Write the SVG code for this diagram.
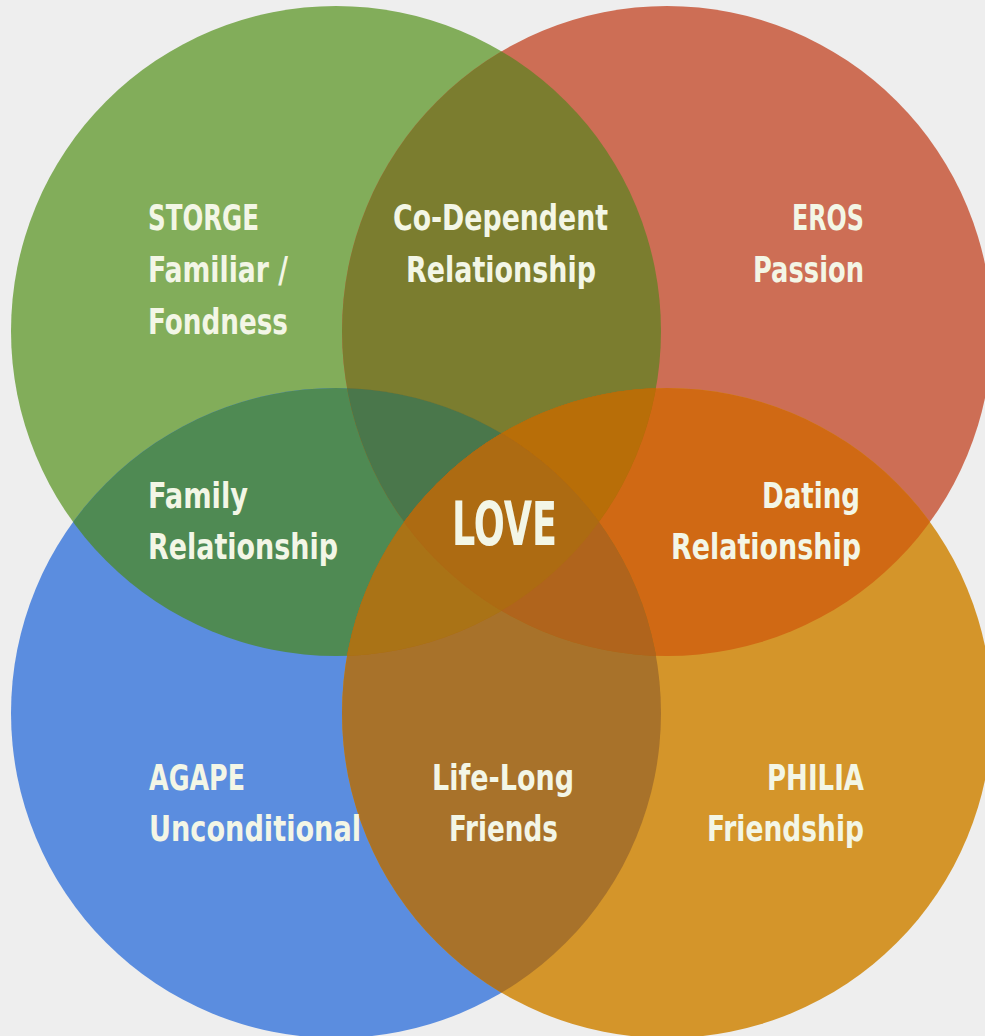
<svg xmlns="http://www.w3.org/2000/svg" width="985" height="1036" viewBox="0 0 985 1036">
<style>
.t{font-family:"Liberation Sans Narrow","DejaVu Sans Condensed","Liberation Sans",sans-serif;font-weight:bold;font-size:36px;fill:#f3f6e6}
.big{font-size:60px}
</style>
<defs>
<clipPath id="cG"><circle cx="336" cy="331" r="325"/></clipPath>
<clipPath id="cR"><circle cx="667" cy="331" r="325"/></clipPath>
<clipPath id="cB"><circle cx="336" cy="713" r="325"/></clipPath>
<clipPath id="cO"><circle cx="667" cy="713" r="325"/></clipPath>
</defs>
<rect width="985" height="1036" fill="#eeeeee"/>
<g id="circles">
<circle id="storge-circle" cx="336" cy="331" r="325" fill="#82ad5a"/>
<circle id="eros-circle" cx="667" cy="331" r="325" fill="#cd6e55"/>
<circle id="agape-circle" cx="336" cy="713" r="325" fill="#5b8ddf"/>
<circle id="philia-circle" cx="667" cy="713" r="325" fill="#d4952a"/>
</g>
<g id="overlaps">
<circle cx="667" cy="331" r="325" clip-path="url(#cG)" fill="#7b7d2f"/>
<circle cx="336" cy="713" r="325" clip-path="url(#cG)" fill="#4f8a53"/>
<circle cx="667" cy="713" r="325" clip-path="url(#cR)" fill="#d06914"/>
<circle cx="667" cy="713" r="325" clip-path="url(#cB)" fill="#a8722a"/>
<circle cx="667" cy="713" r="325" clip-path="url(#cG)" fill="#af6a10"/>
<circle cx="336" cy="713" r="325" clip-path="url(#cR)" fill="#af6a10"/>
<g clip-path="url(#cG)"><circle cx="336" cy="713" r="325" clip-path="url(#cR)" fill="#4a774b"/></g>
<g clip-path="url(#cG)"><circle cx="667" cy="713" r="325" clip-path="url(#cR)" fill="#b86e08"/></g>
<g clip-path="url(#cG)"><circle cx="667" cy="713" r="325" clip-path="url(#cB)" fill="#aa7316"/></g>
<g clip-path="url(#cR)"><circle cx="667" cy="713" r="325" clip-path="url(#cB)" fill="#b0641c"/></g>
<g clip-path="url(#cG)"><g clip-path="url(#cR)"><circle cx="667" cy="713" r="325" clip-path="url(#cB)" fill="#ad6b12"/></g></g>
</g>
<g id="storge">
<text class="t" x="148" y="230" textLength="111" lengthAdjust="spacingAndGlyphs">STORGE</text>
<text class="t" x="148" y="282" textLength="140" lengthAdjust="spacingAndGlyphs">Familiar /</text>
<text class="t" x="148" y="334" textLength="140" lengthAdjust="spacingAndGlyphs">Fondness</text>
</g>
<g id="co-dependent">
<text class="t" x="393" y="230" textLength="215" lengthAdjust="spacingAndGlyphs">Co-Dependent</text>
<text class="t" x="406" y="282" textLength="190" lengthAdjust="spacingAndGlyphs">Relationship</text>
</g>
<g id="eros">
<text class="t" x="792" y="230" textLength="72" lengthAdjust="spacingAndGlyphs">EROS</text>
<text class="t" x="753" y="282" textLength="111" lengthAdjust="spacingAndGlyphs">Passion</text>
</g>
<g id="family">
<text class="t" x="148" y="508" textLength="100" lengthAdjust="spacingAndGlyphs">Family</text>
<text class="t" x="148" y="559" textLength="190" lengthAdjust="spacingAndGlyphs">Relationship</text>
</g>
<g id="love">
<text class="t big" x="452" y="545" textLength="105" lengthAdjust="spacingAndGlyphs">LOVE</text>
</g>
<g id="dating">
<text class="t" x="762" y="508" textLength="98" lengthAdjust="spacingAndGlyphs">Dating</text>
<text class="t" x="671" y="559" textLength="190" lengthAdjust="spacingAndGlyphs">Relationship</text>
</g>
<g id="agape">
<text class="t" x="149" y="790" textLength="96" lengthAdjust="spacingAndGlyphs">AGAPE</text>
<text class="t" x="149" y="841" textLength="212" lengthAdjust="spacingAndGlyphs">Unconditional</text>
</g>
<g id="life-long">
<text class="t" x="432" y="790" textLength="142" lengthAdjust="spacingAndGlyphs">Life-Long</text>
<text class="t" x="449" y="841" textLength="109" lengthAdjust="spacingAndGlyphs">Friends</text>
</g>
<g id="philia">
<text class="t" x="767" y="790" textLength="97" lengthAdjust="spacingAndGlyphs">PHILIA</text>
<text class="t" x="707" y="841" textLength="157" lengthAdjust="spacingAndGlyphs">Friendship</text>
</g>
</svg>
